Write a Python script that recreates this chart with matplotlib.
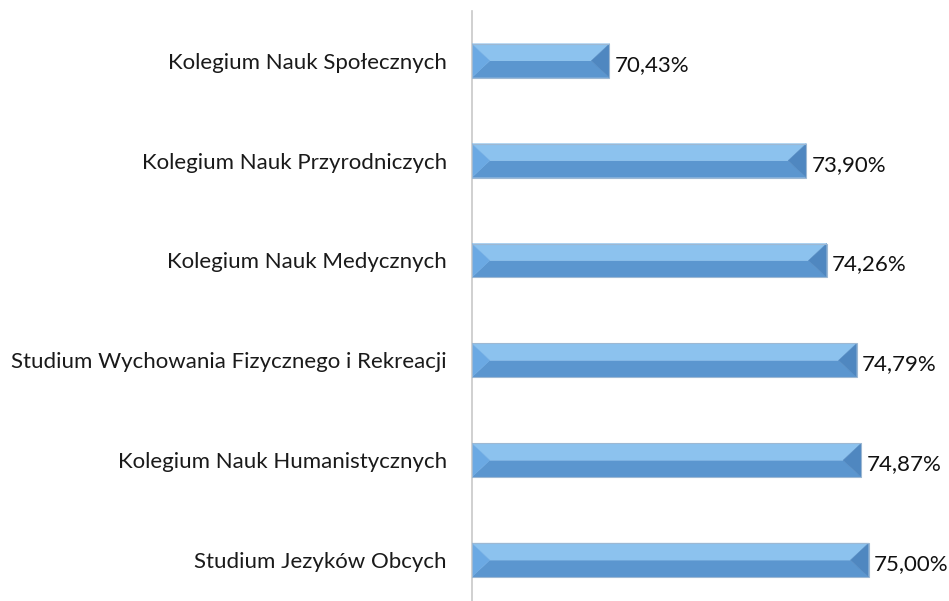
import matplotlib.pyplot as plt
from matplotlib.patches import Polygon

# dane (od dołu do góry)
kolegia = ["Studium Jezyków Obcych",
           "Kolegium Nauk Humanistycznych",
           "Studium Wychowania Fizycznego i Rekreacji",
           "Kolegium Nauk Medycznych",
           "Kolegium Nauk Przyrodniczych",
           "Kolegium Nauk Społecznych"]
wyniki = [75.00, 74.87, 74.79, 74.26, 73.90, 70.43]

plt.rcParams['font.family'] = ['Lato', 'DejaVu Sans']

fig = plt.figure(figsize=(9.49, 6.01), dpi=100)
ax = fig.add_axes([0.497, -0.015, 0.478, 0.997])

x0 = 68
h = 0.34
bars = ax.barh(range(len(wyniki)), [w - x0 for w in wyniki], left=x0, height=h,
               color="#5b96cf", edgecolor="#9db8d3", linewidth=0.8, zorder=4)

ax.set_xlim(68, 76)
ax.set_ylim(-0.5, len(wyniki) - 0.5)

# efekt fazowania
bx = 0.32  # szerokość fazy w jednostkach x
for b in bars:
    l = b.get_x()
    r = l + b.get_width()
    d = b.get_y()
    t = d + b.get_height()
    c = d + b.get_height() / 2
    b.set_facecolor("none")
    czesci = [
        ([(l, d), (r, d), (r - bx, c), (l + bx, c)], "#5b96cf"),
        ([(l, t), (r, t), (r - bx, c), (l + bx, c)], "#8cc2ee"),
        ([(l, t), (l + bx, c), (l, d)], "#6ba9e3"),
        ([(r, t), (r - bx, c), (r, d)], "#4f87c0"),
    ]
    for pts, kol in czesci:
        ax.add_patch(Polygon(pts, closed=True, facecolor=kol, edgecolor=kol,
                             lw=0.3, zorder=3))
    ax.text(r + 0.09, c - 0.04,
            ("%.2f" % (l + b.get_width())).replace(".", ",") + "%",
            va="center", ha="left", fontsize=16, color="#111111")

ax.set_yticks(range(len(kolegia)))
ax.set_yticklabels(kolegia, fontsize=16, color="#1a1a1a")
ax.tick_params(axis="y", length=0, pad=18)
ax.set_xticks([])
for s in ("top", "right", "bottom"):
    ax.spines[s].set_visible(False)
ax.spines["left"].set_color("#c8c8c8")
ax.spines["left"].set_linewidth(1.2)

fig.savefig("out.png", dpi=100)
